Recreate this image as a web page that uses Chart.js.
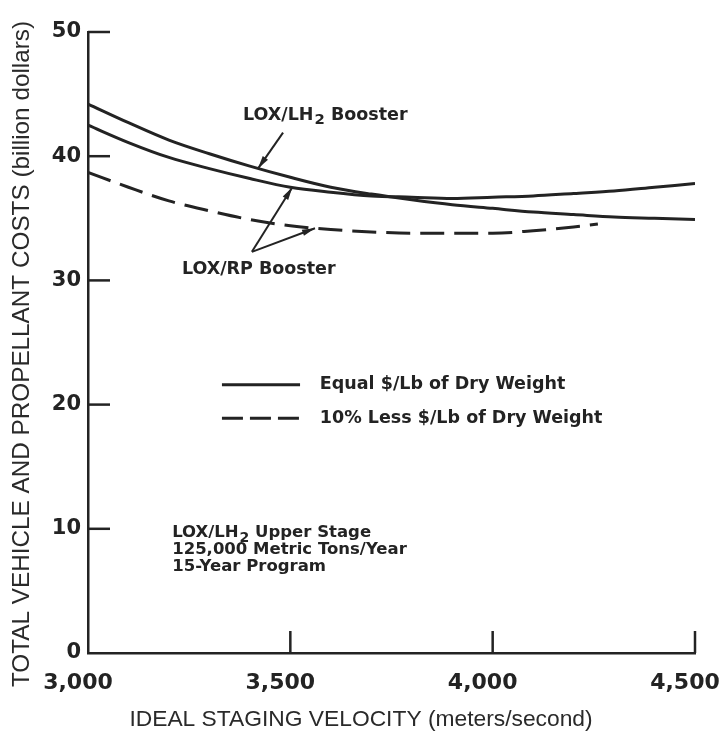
<!DOCTYPE html>
<html>
<head>
<meta charset="utf-8">
<script src="https://cdn.jsdelivr.net/npm/chart.js@4.4.1/dist/chart.umd.min.js"></script>
<style>
html, body { margin: 0; padding: 0; background: #fff; }
canvas { display: block; }
</style>
</head>
<body>
<canvas id="chart" width="719" height="736"></canvas>
<script>
/* ---------- data ---------- */

const velocity = [3000, 3100, 3200, 3300, 3400, 3500, 3600, 3700,
                  3800, 3900, 4000, 4100, 4200, 4300, 4400, 4500];

// LOX/LH2 booster, equal $/lb
const lh2Booster = [44.2, 42.7, 41.3, 40.2, 39.2, 38.3, 37.5, 36.95,
                    36.5, 36.1, 35.8, 35.5, 35.3, 35.1, 35.0, 34.9];

// LOX/RP booster, equal $/lb
const rpBooster = [42.5, 41.1, 39.9, 39.0, 38.2, 37.5, 37.1, 36.8,
                   36.7, 36.6, 36.7, 36.8, 37.0, 37.2, 37.5, 37.8];

// LOX/RP booster, 10% less $/lb
const rpVelocity = [3000, 3100, 3200, 3300, 3400, 3500, 3600,
                    3700, 3800, 3900, 4000, 4100, 4200, 4260];
const rpBoosterLess = [38.7, 37.5, 36.4, 35.6, 34.9, 34.4, 34.1,
                       33.9, 33.8, 33.8, 33.8, 34.0, 34.3, 34.55];

const xTicks = [3000, 3500, 4000, 4500];
const yTicks = [0, 10, 20, 30, 40, 50];

const legendLabels = ["Equal $/Lb of Dry Weight", "10% Less $/Lb of Dry Weight"];
const noteLines = ["LOX/LH\u2082 Upper Stage", "125,000 Metric Tons/Year", "15-Year Program"];
const lh2Label = "LOX/LH\u2082 Booster";
const rpLabel = "LOX/RP Booster";

const xTitle = ["IDEAL STAGING VELOCITY", " (meters/second)"];
const yTitle = ["TOTAL VEHICLE AND PROPELLANT COSTS", " (billion dollars)"];

const ink = "#232323";
const tickFont = { family: "DejaVu Sans", weight: "bold", size: 21 };

/* ---------- helpers ---------- */

// draws text, treating "₂" as a lowered smaller 2
function drawText(ctx, str, x, y, size) {
    let cx = x;
    const parts = str.split("\u2082");
    parts.forEach((p, i) => {
        ctx.font = "bold " + size + "px 'DejaVu Sans'";
        ctx.fillText(p, cx, y);
        cx += ctx.measureText(p).width;
        if (i < parts.length - 1) {
            ctx.font = "bold " + (size * 0.85) + "px 'DejaVu Sans'";
            ctx.fillText("2", cx + 1, y + size * 0.3);
            cx += ctx.measureText("2").width + 1;
        }
    });
}

function arrow(ctx, x0, y0, x1, y1) {
    ctx.beginPath();
    ctx.moveTo(x0, y0);
    ctx.lineTo(x1, y1);
    ctx.stroke();
    const a = Math.atan2(y1 - y0, x1 - x0);
    const len = 13, w = 3.2;
    const bx = x1 - Math.cos(a) * len, by = y1 - Math.sin(a) * len;
    ctx.beginPath();
    ctx.moveTo(x1, y1);
    ctx.lineTo(bx - Math.sin(a) * w, by + Math.cos(a) * w);
    ctx.lineTo(bx + Math.sin(a) * w, by - Math.cos(a) * w);
    ctx.closePath();
    ctx.fill();
}

function titleRun(ctx, parts, cx, cy, size) {
    ctx.font = size + "px 'Liberation Sans'";
    const total = ctx.measureText(parts.join("")).width;
    ctx.textAlign = "left";
    ctx.fillText(parts.join(""), cx - total / 2, cy);
}

/* ---------- extras: inward ticks, labels, arrows, legend, titles ---------- */

const extras = {
    id: "extras",
    afterDraw(chart) {
        const { ctx, chartArea } = chart;
        const x = chart.scales.x, y = chart.scales.y;
        const X = v => x.getPixelForValue(v);
        const Y = v => y.getPixelForValue(v);

        ctx.save();
        ctx.strokeStyle = ink;
        ctx.fillStyle = ink;
        ctx.lineWidth = 2.5;
        ctx.lineCap = "butt";

        // tick marks pointing into the plot
        yTicks.forEach(v => {
            if (v === 0) return;
            ctx.beginPath();
            ctx.moveTo(chartArea.left, Y(v));
            ctx.lineTo(chartArea.left + 22, Y(v));
            ctx.stroke();
        });
        xTicks.forEach(v => {
            if (v === 3000) return;
            ctx.beginPath();
            ctx.moveTo(X(v), chartArea.bottom);
            ctx.lineTo(X(v), chartArea.bottom - 22);
            ctx.stroke();
        });

        // x tick labels (set slightly left of their ticks, as printed)
        ctx.font = "bold 22px 'DejaVu Sans'";
        ctx.textAlign = "center";
        ctx.textBaseline = "middle";
        xTicks.forEach(v => {
            ctx.fillText(v.toLocaleString("en-US"), X(v) - 10, chartArea.bottom + 30);
        });

        // curve labels with pointers
        ctx.textAlign = "left";
        drawText(ctx, lh2Label, X(3383), Y(43.3), 17.5);
        drawText(ctx, rpLabel, X(3232), Y(30.9), 17.5);

        ctx.lineWidth = 2;
        arrow(ctx, X(3482), Y(41.9), X(3420), Y(39.0));
        arrow(ctx, X(3405), Y(32.3), X(3505), Y(37.5));
        arrow(ctx, X(3405), Y(32.3), X(3561), Y(34.2));

        // legend
        ctx.lineWidth = 3;
        ctx.beginPath();
        ctx.moveTo(X(3331), Y(21.6));
        ctx.lineTo(X(3524), Y(21.6));
        ctx.stroke();
        ctx.setLineDash([21, 7]);
        ctx.beginPath();
        ctx.moveTo(X(3331), Y(18.9));
        ctx.lineTo(X(3524), Y(18.9));
        ctx.stroke();
        ctx.setLineDash([]);
        drawText(ctx, legendLabels[0], X(3573), Y(21.6), 17.5);
        drawText(ctx, legendLabels[1], X(3573), Y(18.9), 17.5);

        // notes
        noteLines.forEach((t, i) => {
            drawText(ctx, t, X(3208), Y(9.66 - i * 1.37), 16.5);
        });

        // axis titles
        ctx.fillStyle = "#2a2a2a";
        titleRun(ctx, xTitle, 361, 720, 22.8);
        ctx.translate(22, 354);
        ctx.rotate(-Math.PI / 2);
        titleRun(ctx, yTitle, 0, 0, 24.3);

        ctx.restore();
    }
};

/* ---------- chart ---------- */

const toPoints = (xs, ys) => xs.map((v, i) => ({ x: v, y: ys[i] }));

const lineStyle = {
    borderColor: ink,
    borderWidth: 3,
    pointRadius: 0,
    fill: false,
    cubicInterpolationMode: "monotone"
};

new Chart(document.getElementById("chart"), {
    type: "line",
    data: {
        datasets: [
            Object.assign({ label: "LOX/LH2 Booster", data: toPoints(velocity, lh2Booster) }, lineStyle),
            Object.assign({ label: "LOX/RP Booster", data: toPoints(velocity, rpBooster) }, lineStyle),
            Object.assign({ label: "LOX/RP Booster, 10% less", data: toPoints(rpVelocity, rpBoosterLess),
                            borderDash: [24, 10] }, lineStyle)
        ]
    },
    options: {
        responsive: false,
        animation: false,
        devicePixelRatio: 1,
        layout: { autoPadding: false, padding: { top: 32, left: 0, right: 24, bottom: 0 } },
        plugins: { legend: { display: false }, tooltip: { enabled: false } },
        scales: {
            x: {
                type: "linear",
                min: 3000,
                max: 4500,
                afterFit: s => { s.height = 83; },
                afterBuildTicks: s => { s.ticks = xTicks.map(v => ({ value: v })); },
                grid: { display: false, drawTicks: false },
                border: { display: true, color: ink, width: 2.5 },
                ticks: { display: false }
            },
            y: {
                min: 0,
                max: 50,
                afterFit: s => { s.width = 88; },
                afterBuildTicks: s => { s.ticks = yTicks.map(v => ({ value: v })); },
                grid: { display: false, drawTicks: false },
                border: { display: true, color: ink, width: 2.5 },
                ticks: { color: ink, font: tickFont, padding: 7 }
            }
        }
    },
    plugins: [extras]
});
</script>
</body>
</html>
